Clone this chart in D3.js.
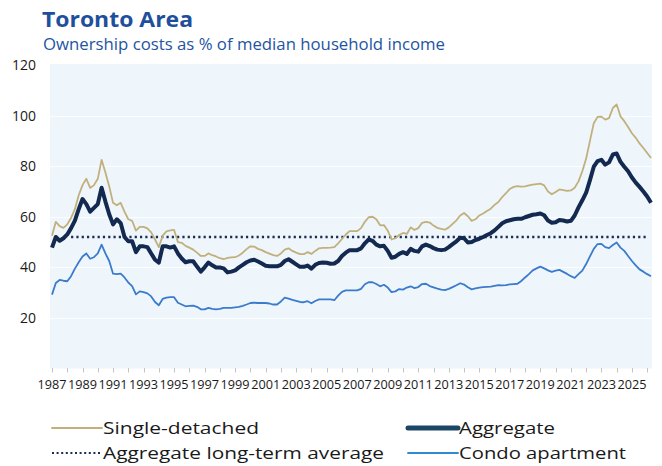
<!DOCTYPE html>
<html><head><meta charset="utf-8">
<script src="https://cdn.jsdelivr.net/npm/d3@7"></script>
<style>
body{margin:0;background:#fff;}
svg{display:block;font-family:"Open Sans","DejaVu Sans",sans-serif;}
</style>
</head><body>
<svg id="chart" width="662" height="466"></svg>
<script>
// ---- Data (quarterly, starting 1987 Q1) ----
const startYear = 1987;
const singleDetached = [
 52.5,58,56.3,55.6,57,59.5,63,68.5,72.5,75,
 71.4,72.5,75,82.5,77.5,72,65.5,64.5,65.5,62,
 59,58.4,54.5,56,56,55.4,53.8,51,48,52.5,
 54.2,54.6,54.8,50,49.7,48.5,47.8,47,45.8,44.5,
 44.5,45.5,44.8,44.3,43.6,43.2,43.7,43.9,44,44.7,
 45.8,47.2,48.3,48.2,47.3,46.8,46,45.4,44.8,44.5,
 45.5,47,47.5,46.5,45.8,45.2,45.2,46,45.3,46.5,
 47.5,47.7,47.7,47.8,48,49.5,51.2,53,54.3,54.3,
 54.3,55.5,58,59.8,60,59,56.6,56.7,54.5,51,
 51.5,52.8,53.6,53.2,55.8,54.8,55.5,57.6,58,57.7,
 56.5,55.6,55.2,54.9,55.8,57.2,58.6,60.5,61.5,60.2,
 58.4,59,60.5,61.3,62.3,63.2,64.7,65.8,67.8,69.3,
 71,71.8,72.1,71.9,72,72.4,72.7,72.9,73.1,72.4,
 70,68.9,69.8,70.8,70.5,70.2,70.4,71.5,74,78,
 83,90,97,99.5,99.6,98.4,99,103,104.4,99.7,
 97.8,95.5,93,91.2,89,87.2,85.2,83.2
];
const aggregate = [
 47.8,52,50.5,51.5,53,55.5,58.5,63,67,65,
 62,63.5,65,71.5,66,61,57,59,57.5,52,
 50.3,50.3,46,48.3,48.3,48,45.5,43,41.9,48.3,
 48.3,47.8,48.3,45.5,43.5,42,42.4,42.4,40.3,38.3,
 40,41.9,40.8,39.9,39.9,39.6,38,38.3,38.8,40,
 41,42,42.7,43,42.3,41.5,40.6,40.4,40.4,40.4,
 41,42.5,43.2,42.2,41.2,40.2,40.2,40.7,39.5,41,
 41.7,41.9,41.8,41.4,41.5,42.5,44.5,45.8,46.8,46.8,
 46.8,47.5,49.5,51,50.5,49,48.3,48.5,46.5,43.8,
 44.2,45.3,46,45.3,47.3,46.5,46.2,48.3,49,48.4,
 47.6,47,46.8,47,48,49.2,50.3,51.7,51.5,49.8,
 50,50.8,51.3,52,52.8,53.5,54.6,56,57.4,58.2,
 58.6,59,59.2,59.2,59.8,60.3,60.8,61,61.3,60.6,
 58.5,57.6,57.8,58.7,58.5,58.1,58.4,60.5,63.7,66.5,
 69.5,74.5,79.8,82,82.5,80.6,81.5,84.6,85,81.7,
 79.8,78,75.5,73.5,71.8,70,68,65.5
];
const condoApartment = [
 29.2,33.8,35,34.7,34.5,36.5,39.5,42,44.3,45.5,
 43.4,44,45.5,49,45.5,42.5,37.5,37.3,37.5,36,
 34,32.6,29.3,30.5,30.2,29.7,28.5,26.3,25,27.5,
 28,28.2,28.2,26,25.3,24.6,24.8,24.9,24.4,23.4,
 23.4,24,23.6,23.4,23.6,24,24,24,24.2,24.4,
 24.8,25.3,25.9,26,25.9,25.9,25.9,25.7,25.3,25.3,
 26.5,28,27.6,27.1,26.7,26.3,26.2,26.6,25.8,26.7,
 27.3,27.3,27.3,27.3,27,28.8,30.3,30.9,30.9,30.9,
 30.9,31.5,33.3,34.1,34.1,33.4,32.5,33.1,32,30.2,
 30.5,31.4,31.2,32,32.5,31.8,32.2,33.4,33.5,32.6,
 32.1,31.6,31.2,31,31.5,32.2,32.9,33.7,33.2,32.1,
 31.3,31.7,32,32.2,32.3,32.4,32.7,33,32.9,33,
 33.3,33.4,33.5,34.6,36,37.3,38.8,39.6,40.3,39.6,
 38.8,38.2,38.7,39,38.2,37.4,36.5,35.8,37.3,38.7,
 41.3,44.3,47.3,49.2,49.3,48,47.6,48.8,49.8,47.8,
 46.5,44.5,42.5,40.8,39.2,38.3,37.3,36.5
];
const longTermAverage = 52;
const avgStart = 1988.25, avgEnd = 2026;
const yTickValues = [20, 40, 60, 80, 100, 120];
const yTickLabels = ["20", "40", "60", "80", "100", "120"];
const xTickLabels = ["1987","1989","1991","1993","1995","1997","1999","2001","2003","2005",
  "2007","2009","2011","2013","2015","2017","2019","2021","2023","2025"];
const legendLabels = ["Single-detached", "Aggregate", "Aggregate long-term average", "Condo apartment"];
const title = "Toronto Area";
const subtitle = "Ownership costs as % of median household income";

// ---- Chart ----
const svg = d3.select("#chart");
const t = i => startYear + i / 4;
const lastT = t(aggregate.length - 1);

const x = d3.scaleLinear().domain([startYear, lastT]).range([52, 651]);
const y = d3.scaleLinear().domain([0, 120]).range([368.5, 65]);

// plot background
svg.append("rect").attr("x", 50).attr("y", 64).attr("width", 602).attr("height", 304.5)
  .attr("fill", "#eef6fc");

// gridlines
svg.append("g").selectAll("line").data(yTickValues.filter(v => v < 120)).join("line")
  .attr("x1", 50).attr("x2", 652)
  .attr("y1", d => Math.round(y(d)) + 0.5).attr("y2", d => Math.round(y(d)) + 0.5)
  .attr("stroke", "#fbfdff").attr("stroke-width", 1);

// y labels
svg.append("g").selectAll("text").data(yTickValues).join("text")
  .attr("x", 36).attr("y", d => y(d)).attr("dy", "0.36em")
  .attr("text-anchor", "end").attr("font-size", 14).attr("fill", "#1a1a1a")
  .text((d, i) => yTickLabels[i]);

// x ticks (yearly)
const yearTicks = d3.range(startYear, Math.floor(lastT) + 1);
svg.append("g").selectAll("line").data(yearTicks).join("line")
  .attr("x1", d => Math.round(x(d)) + 0.5).attr("x2", d => Math.round(x(d)) + 0.5)
  .attr("y1", 368).attr("y2", 372.5)
  .attr("stroke", "#c4c4c4").attr("stroke-width", 1);

svg.append("g").selectAll("text").data(xTickLabels).join("text")
  .attr("x", d => x(+d)).attr("y", 388.5)
  .attr("text-anchor", "middle").attr("font-size", 12).attr("fill", "#1a1a1a")
  .attr("textLength", 29).attr("lengthAdjust", "spacingAndGlyphs")
  .text(d => d);

// average line
svg.append("line")
  .attr("x1", x(avgStart)).attr("x2", x(avgEnd))
  .attr("y1", y(longTermAverage)).attr("y2", y(longTermAverage))
  .attr("stroke", "#1b2d55").attr("stroke-width", 2.5)
  .attr("stroke-dasharray", "2.2,3.1");

const line = d3.line().x((d, i) => x(t(i))).y(d => y(d));

svg.append("path").datum(condoApartment).attr("d", line)
  .attr("fill", "none").attr("stroke", "#3b7bcb").attr("stroke-width", 1.8)
  .attr("stroke-linejoin", "round");
svg.append("path").datum(singleDetached).attr("d", line)
  .attr("fill", "none").attr("stroke", "#c1b07c").attr("stroke-width", 1.8)
  .attr("stroke-linejoin", "round");
svg.append("path").datum(aggregate).attr("d", line)
  .attr("fill", "none").attr("stroke", "#13294f").attr("stroke-width", 4)
  .attr("stroke-linejoin", "round");

// title
svg.append("text").attr("x", 42).attr("y", 27)
  .attr("font-size", 21.5).attr("font-weight", "bold").attr("fill", "#1e4f9d")
  .attr("textLength", 151).attr("lengthAdjust", "spacingAndGlyphs")
  .text(title);
svg.append("text").attr("x", 43).attr("y", 50)
  .attr("font-size", 15.5).attr("fill", "#2354a3")
  .attr("textLength", 402).attr("lengthAdjust", "spacingAndGlyphs")
  .text(subtitle);

// legend
const legend = [
  {label: legendLabels[0], x: 52, y: 428, color: "#c1b07c", w: 1.8, dash: null, tl: 156},
  {label: legendLabels[1], x: 408, y: 428, color: "#1c4666", w: 5, dash: null, tl: 96},
  {label: legendLabels[2], x: 52, y: 453, color: "#1b2d55", w: 2.2, dash: "2,2.6", tl: 281},
  {label: legendLabels[3], x: 408, y: 453, color: "#2f8ad4", w: 1.8, dash: null, tl: 167}
];
const lg = svg.append("g").selectAll("g").data(legend).join("g");
lg.append("line")
  .attr("x1", d => d.x).attr("x2", d => d.x + 50)
  .attr("y1", d => d.y).attr("y2", d => d.y)
  .attr("stroke", d => d.color).attr("stroke-width", d => d.w)
  .attr("stroke-linecap", d => d.dash ? "butt" : "round")
  .attr("stroke-dasharray", d => d.dash);
lg.append("text")
  .attr("x", d => d.x + 51).attr("y", d => d.y).attr("dy", "0.36em")
  .attr("font-size", 17).attr("fill", "#1a1a1a")
  .attr("textLength", d => d.tl).attr("lengthAdjust", "spacingAndGlyphs")
  .text(d => d.label);
</script>
</body></html>
